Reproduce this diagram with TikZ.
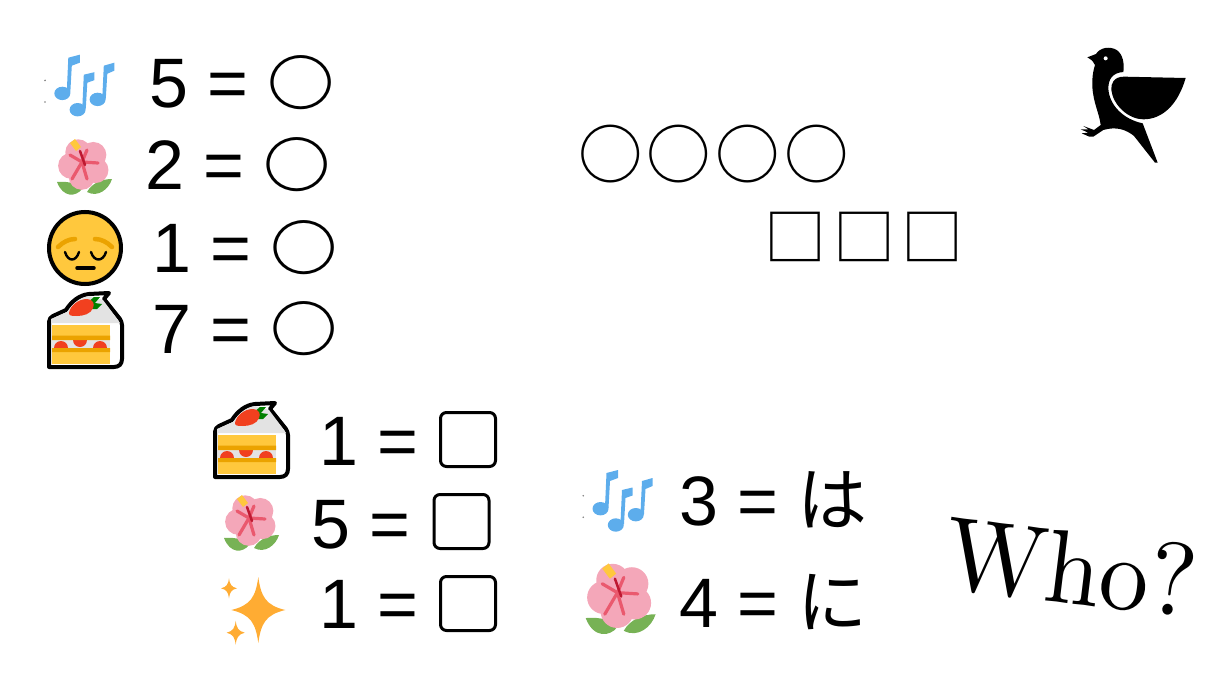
\documentclass[tikz,border=0pt]{standalone}
\usepackage{fontspec}
\setmainfont{Liberation Sans}
\newfontfamily\cjkfont{Noto Sans CJK JP}
\newfontfamily\whofont{lmroman10-regular.otf}
\usetikzlibrary{positioning}
\definecolor{noteblue}{HTML}{5DADEC}
\definecolor{petalpink}{HTML}{F4A7B9}
\definecolor{petalred}{HTML}{EA596E}
\definecolor{stemred}{HTML}{BE1931}
\definecolor{leafgreen}{HTML}{77B255}
\definecolor{sunyellow}{HTML}{FFC83D}
\definecolor{bandorange}{HTML}{EBA300}
\definecolor{berryred}{HTML}{F1401F}
\definecolor{creamgrey}{HTML}{E3E3E3}
\definecolor{sparkorange}{HTML}{FFAC33}
\newcommand{\ringglyph}{\raisebox{2pt}{\scalebox{0.96}[0.86]{\cjkfont\bfseries ○}}}
\tikzstyle{eqn} = [anchor=base west, inner sep=0pt, outer sep=0pt,
    font=\fontsize{70}{70}\selectfont]
\tikzstyle{blankring} = [anchor=base west, inner sep=0pt, outer sep=0pt,
    font=\fontsize{64.4}{64.4}\selectfont\cjkfont]
\tikzstyle{blanksquare} = [anchor=base west, inner sep=0pt, outer sep=0pt,
    font=\fontsize{62}{62}\selectfont\cjkfont]
\tikzstyle{boxblank} = [draw, line width=3pt, rounded corners=6pt,
    minimum width=55pt, minimum height=54pt, inner sep=0pt]
\tikzset{
  pics/notes/.style={code={
    \fill [gray] (-38.3,-6.3) circle (0.9) (-38.3,15.3) circle (0.9);
    \fill [noteblue] (-21,6.7) ellipse (8 and 6.7)
        (-5.7,23) ellipse (8 and 6.7) (14.3,12.7) ellipse (8 and 6.7);
    \fill [noteblue] (-16.5,5) -- (-15,-29) -- (-3.5,-32) -- (-3.5,-24)
        -- (-11.5,-21) -- (-13,6) -- cycle;
    \fill [noteblue] (-1,21) -- (0.5,-12) -- (11,-14.5) -- (11,-6.5)
        -- (4,-4) -- (2.5,22) -- cycle;
    \fill [noteblue] (19,11) -- (20.5,-21) -- (31,-24) -- (31,-16)
        -- (24,-13) -- (22.5,12) -- cycle;
  }},
  pics/hibiscus/.style={code={
    \fill [leafgreen] (-27,15) .. controls (-14,14) and (-6,17) .. (-2,22)
        .. controls (-8,30) and (-21,31) .. cycle;
    \fill [leafgreen] (28,12) .. controls (18,12) and (8,16) .. (3,25)
        .. controls (14,31) and (25,22) .. cycle;
    \foreach \petal in {18,90,162,234,306}
      \fill [petalpink] (0,-3) ++(\petal+10:13) circle (13);
    \fill [petalpink] (0,-3) circle (16);
    \foreach \tipx/\tipy in {-14/-12,-12/12,3/12,14/-4,3/-17}
      \draw [petalred, line width=3.2pt, line cap=round] (-2,-5) -- (\tipx,\tipy);
    \draw [stemred, line width=2.5pt, line cap=round] (-4,-16) -- (1,-2);
    \fill [sunyellow] (-14,-24) -- (-9,-28) -- (-3,-20) -- (-8,-16) -- cycle;
  }},
  pics/cake/.style={code={
    \draw [line width=4pt, fill=white, line join=round]
        (2,75) -- (2,30) .. controls (2,27) and (4,25) .. (6,24) -- (19,18)
        .. controls (24,10) and (32,3) .. (42,2) -- (62,1) -- (57,7)
        -- (73,27) .. controls (74,29) and (75,31) .. (75,33) -- (75,67)
        .. controls (75,72) and (72,75) .. (67,75) -- cycle;
    \fill [creamgrey] (4,31) -- (4,27) -- (20,20) .. controls (25,13) and (32,6) .. (42,4)
        -- (56,8) -- (71,28) -- (73,31) -- cycle;
    \fill [sunyellow] (5,33) rectangle (63,72);
    \fill [creamgrey] (5,48) rectangle (63,56);
    \fill [berryred] (7,56) arc (180:360:7) -- cycle;
    \fill [berryred] (46,56) arc (180:360:7) -- cycle;
    \fill [berryred] (26,48) arc (180:0:7) -- cycle;
    \fill [bandorange] (5,43.5) rectangle (63,48) (5,56) rectangle (63,60);
    \fill [green!50!black] (40,11) -- (47,5) -- (53,5) -- (48,11) -- (55,12)
        -- (50,17) -- (43,17) -- cycle;
    \fill [berryred] (22,21) .. controls (23,14) and (31,7) .. (40,7)
        .. controls (46,7) and (48,12) .. (46,16) .. controls (44,22) and (36,24) .. (30,24)
        .. controls (25,24) and (22,24) .. cycle;
  }},
  pics/sparkle/.style={code={
    \fill [sparkorange] (0,-1) .. controls (0.1,-0.4) and (0.28,-0.14) .. (1,0)
        .. controls (0.28,0.14) and (0.1,0.4) .. (0,1)
        .. controls (-0.1,0.4) and (-0.28,0.14) .. (-1,0)
        .. controls (-0.28,-0.14) and (-0.1,-0.4) .. (0,-1) -- cycle;
  }}
}
\begin{document}
\begin{tikzpicture}[x=1pt, y=-1pt]
	\useasboundingbox (0,0) rectangle (1224,677);
	% first list
	\pic at (83.3,86.7) {notes};
	\node [eqn] (row_five) at (149,107) {5 = \ringglyph};
	\pic at (84,167) {hibiscus};
	\node [eqn] (row_two) at (145,189) {2 = \ringglyph};
	% sleepy face
	\draw [line width=4pt, fill=sunyellow] (85,248) circle (36);
	\draw [bandorange, line width=4.5pt, line cap=round] (58,247)
		.. controls (63,242) and (69,239) .. (75,239);
	\draw [bandorange, line width=4.5pt, line cap=round] (112,247)
		.. controls (107,242) and (101,239) .. (95,239);
	\draw [line width=2.4pt, line cap=round] (65,252)
		.. controls (68,262) and (76,262) .. (79,252);
	\draw [line width=2.4pt, line cap=round] (91,252)
		.. controls (94,262) and (103,262) .. (106,252);
	\draw [line width=3.5pt, line cap=round] (77,268) -- (94,268);
	\node [eqn] (row_one) at (152,272) {1 = \ringglyph};
	\pic at (47,292) {cake};
	\node [eqn] (row_seven) at (152,353.5) {7 = \ringglyph};
	% blanks on top
	\node [blankring] (blank_rings) at (578,178) {○\kern4.3pt ○\kern4.3pt ○\kern4.3pt ○};
	\node [blanksquare] (blank_squares) at (764.4,260) {□\kern6.7pt □\kern6.7pt □};
	% second list
	\pic at (213,402) {cake};
	\node [eqn] (row_cake) at (319,465) {1 =};
	\node [boxblank] (box_cake) at (468,439.5) {};
	\pic at (251,523) {hibiscus};
	\node [eqn] (row_flower) at (311,548) {5 =};
	\node [boxblank] (box_flower) at (461.5,521.5) {};
	\pic [xscale=27, yscale=33] at (258.3,610) {sparkle};
	\pic [xscale=8, yscale=10] at (229,588.3) {sparkle};
	\pic [xscale=9, yscale=12] at (235.7,632.7) {sparkle};
	\node [eqn] (row_spark) at (319,628) {1 =};
	\node [boxblank] (box_spark) at (468,603.5) {};
	% third list
	\pic at (621.5,502) {notes};
	\node [eqn] (row_ha) at (679,525) {3 = {\cjkfont は}};
	\pic [scale=1.27] at (620,599) {hibiscus};
	\node [eqn] (row_ni) at (679,627) {4 = {\cjkfont に}};
	% who
	\node [rotate=-7, inner sep=0pt, font=\whofont\fontsize{99}{99}\selectfont]
		(who_label) at (1071,568) {\scalebox{1}[1.05]{Who?}};
	% bird
	\begin{scope}[shift={(1060,30)}, scale=1/3]
		\fill (82,82) -- (108,72) .. controls (120,52) and (150,48) .. (170,60)
			.. controls (188,72) and (194,100) .. (190,126)
			.. controls (160,128) and (145,145) .. (145,175)
			.. controls (147,225) and (190,268) .. (248,280)
			-- (293,398) -- (285,398) -- (222,318)
			.. controls (200,300) and (170,288) .. (130,300)
			-- (100,320) -- (88,320) -- (65,310) -- (85,308) -- (62,298) -- (85,298)
			-- (70,288) -- (102,300) -- (122,285)
			.. controls (118,250) and (100,220) .. (97,170)
			.. controls (96,140) and (100,120) .. (105,105)
			.. controls (102,95) and (95,90) .. (82,82) -- cycle;
		\fill [white] (137,85) circle (6);
		\fill (377,144) -- (192,140) .. controls (162,140) and (152,160) .. (154,180)
			.. controls (159,225) and (205,268) .. (250,268)
			.. controls (310,268) and (355,220) .. (377,144) -- cycle;
	\end{scope}
\end{tikzpicture}
\end{document}
